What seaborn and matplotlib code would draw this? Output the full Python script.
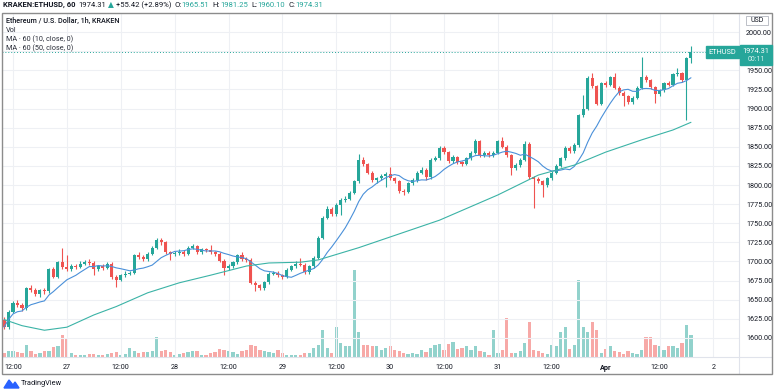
import numpy as np
import pandas as pd
import seaborn as sns
import matplotlib.pyplot as plt
from matplotlib.patches import Rectangle, Polygon
from matplotlib.lines import Line2D

sns.set_theme(style="white")
plt.rcParams['font.family'] = ['Roboto', 'DejaVu Sans']

# hourly candles, KRAKEN ETHUSD, 26 Mar 10:00 -> 1 Apr 19:00
first_open = 1624.0
closes = [1614, 1634, 1646, 1643, 1639, 1665, 1663, 1657, 1662, 1661,
          1690, 1680, 1699, 1693, 1690, 1694, 1693, 1697, 1699, 1698,
          1690, 1694, 1692, 1697, 1680, 1676, 1682, 1684, 1685, 1708,
          1706, 1703, 1710, 1718, 1728, 1725, 1712, 1710, 1711, 1713,
          1710, 1718, 1720, 1712, 1716, 1715, 1712, 1710, 1701, 1692,
          1694, 1699, 1708, 1703, 1702, 1672, 1669, 1665, 1673, 1684,
          1685, 1682, 1680, 1689, 1694, 1697, 1696, 1686, 1694, 1705,
          1731, 1757, 1769, 1762, 1774, 1780, 1782, 1790, 1805, 1833,
          1827, 1816, 1806, 1809, 1812, 1814, 1809, 1805, 1792, 1791,
          1802, 1806, 1816, 1820, 1810, 1833, 1835, 1848, 1843, 1831,
          1836, 1830, 1828, 1835, 1842, 1857, 1839, 1842, 1839, 1842,
          1857, 1850, 1839, 1822, 1826, 1833, 1854, 1810, 1808, 1805,
          1800, 1809, 1816, 1825, 1835, 1848, 1844, 1852, 1891, 1900,
          1940, 1929, 1906, 1933, 1931, 1941, 1927, 1921, 1916, 1908,
          1914, 1927, 1941, 1937, 1928, 1919, 1924, 1933, 1931, 1945,
          1946, 1937, 1965.51, 1974.31]
highs = [1627, 1636, 1648, 1649, 1645, 1667, 1669, 1665, 1664, 1665,
         1692, 1693, 1701, 1718, 1709, 1697, 1697, 1700, 1702, 1703,
         1700, 1696, 1697, 1699, 1699, 1682, 1684, 1687, 1688, 1710,
         1712, 1708, 1712, 1720, 1731, 1731, 1727, 1714, 1714, 1716,
         1715, 1720, 1723, 1722, 1718, 1718, 1722, 1714, 1712, 1703,
         1697, 1701, 1710, 1712, 1706, 1704, 1674, 1671, 1675, 1686,
         1688, 1687, 1684, 1691, 1696, 1700, 1704, 1698, 1696, 1707,
         1733, 1760, 1772, 1771, 1776, 1783, 1785, 1792, 1807, 1841,
         1836, 1829, 1818, 1811, 1815, 1817, 1824, 1811, 1807, 1795,
         1804, 1809, 1818, 1823, 1822, 1835, 1838, 1851, 1851, 1845,
         1839, 1838, 1832, 1837, 1844, 1860, 1859, 1845, 1844, 1845,
         1859, 1863, 1852, 1841, 1829, 1835, 1857, 1856, 1812, 1811,
         1807, 1811, 1818, 1827, 1837, 1851, 1851, 1855, 1893, 1918,
         1943, 1946, 1931, 1935, 1936, 1943, 1946, 1929, 1923, 1918,
         1916, 1929, 1967, 1944, 1939, 1930, 1926, 1935, 1936, 1947,
         1953, 1948, 1968, 1981.25]
lows = [1611, 1612, 1632, 1641, 1635, 1637, 1660, 1655, 1654, 1658,
        1659, 1678, 1678, 1690, 1687, 1688, 1690, 1691, 1695, 1695,
        1682, 1688, 1689, 1690, 1677, 1667, 1674, 1680, 1682, 1683,
        1703, 1700, 1701, 1708, 1716, 1722, 1710, 1702, 1707, 1709,
        1707, 1708, 1716, 1710, 1710, 1713, 1710, 1707, 1699, 1682,
        1689, 1692, 1697, 1701, 1699, 1670, 1661, 1663, 1663, 1671,
        1682, 1680, 1677, 1678, 1687, 1692, 1694, 1684, 1684, 1692,
        1703, 1729, 1755, 1760, 1760, 1761, 1778, 1780, 1788, 1803,
        1825, 1814, 1804, 1803, 1807, 1797, 1807, 1803, 1790, 1787,
        1789, 1800, 1804, 1814, 1807, 1808, 1831, 1833, 1841, 1829,
        1829, 1828, 1825, 1826, 1833, 1840, 1837, 1837, 1836, 1837,
        1840, 1848, 1837, 1813, 1820, 1824, 1831, 1808, 1770, 1802,
        1784, 1798, 1807, 1814, 1823, 1833, 1842, 1842, 1850, 1889,
        1898, 1927, 1904, 1904, 1928, 1929, 1925, 1918, 1903, 1906,
        1906, 1912, 1925, 1935, 1926, 1907, 1917, 1922, 1929, 1929,
        1943, 1935, 1885, 1960.10]
volumes = [4, 6, 6, 5, 4, 12, 6, 3, 4, 6,
           6, 10, 11, 22, 18, 4, 2, 2, 2, 3,
           3, 2, 2, 3, 4, 5, 2, 3, 9, 6,
           4, 5, 5, 6, 20, 6, 7, 5, 2, 3,
           4, 5, 6, 6, 2, 2, 4, 5, 8, 7,
           6, 5, 3, 6, 7, 12, 11, 7, 6, 5,
           4, 7, 4, 2, 2, 2, 2, 4, 4, 9,
           12, 27, 9, 4, 30, 14, 11, 11, 87, 25,
           12, 12, 11, 11, 7, 9, 11, 7, 6, 4,
           3, 4, 3, 7, 5, 9, 12, 13, 7, 13,
           15, 8, 9, 11, 7, 11, 6, 5, 2, 27,
           4, 7, 39, 4, 4, 6, 14, 35, 7, 6,
           4, 3, 12, 11, 25, 30, 8, 12, 77, 30,
           25, 35, 27, 4, 8, 11, 6, 5, 3, 6,
           4, 3, 7, 20, 20, 12, 11, 7, 11, 11,
           9, 14, 32, 22]

# 50-period MA (candle index, value)
ma50_idx = [0, 4, 9, 14, 20, 25, 32, 39, 46, 54, 59, 66, 70, 79, 86,
            97, 110, 119, 127, 134, 142, 149, 153]
ma50_val = [1624, 1616, 1610, 1614, 1630, 1641, 1659, 1672, 1682, 1694, 1698,
            1699, 1702, 1718, 1732, 1754, 1787, 1813, 1826, 1843, 1859, 1872, 1882]

tick_pos = [2, 14, 26, 38, 50, 62, 74, 86, 98, 110, 122, 134, 146, 158]
tick_labels = ["12:00", "27", "12:00", "28", "12:00", "29", "12:00", "30",
               "12:00", "31", "12:00", "Apr", "12:00", "2"]
price_ticks = [1600, 1625, 1650, 1675, 1700, 1725, 1750, 1775, 1800, 1825,
               1850, 1875, 1900, 1925, 1950, 1975, 2000]
hidden_price = 1975  # label sits under the last-price tag

df = pd.DataFrame({"close": closes, "high": highs, "low": lows, "volume": volumes})
df["open"] = [first_open] + closes[:-1]
df["i"] = np.arange(len(df))
df["ma10"] = df["close"].rolling(10, min_periods=1).mean()
ma50 = pd.DataFrame({"i": ma50_idx, "ma": ma50_val})

GREEN, RED = "#26a69a", "#ef5350"
VGREEN, VRED = "#92d2cc", "#f7a9a7"
up = df["close"] >= df["open"]
cols = np.where(up, GREEN, RED)
vcols = np.where(up, VGREEN, VRED)

W, H = 775, 391
fig = plt.figure(figsize=(W / 100, H / 100), dpi=100)
pos = [2 / W, 1 - 357 / H, 737 / W, 344 / H]

vax = fig.add_axes(pos)
vax.bar(df["i"], df["volume"], width=0.72, color=vcols, linewidth=0)
vax.set_xlim(-0.45, 163.7)
vax.set_ylim(0, max(volumes) * 344 / 87)
vax.axis("off")

ax = fig.add_axes(pos)
ax.set_facecolor("none")
ax.set_xlim(-0.45, 163.7)
ax.set_ylim(1575, 2025)
ax.grid(True, color="#eef0f4", linewidth=0.8)
ax.set_axisbelow(True)

ax.vlines(df["i"], df["low"], df["high"], colors=cols, linewidth=0.8, zorder=2)
body = np.maximum((df["close"] - df["open"]).abs(), 1.0)
ax.bar(df["i"], body, bottom=np.minimum(df["open"], df["close"]), width=0.68,
       color=cols, linewidth=0, zorder=3)

sns.lineplot(data=df, x="i", y="ma10", ax=ax, color="#4a90d9", linewidth=0.8, zorder=4)
sns.lineplot(data=ma50, x="i", y="ma", ax=ax, color="#3bb3a6", linewidth=0.8, zorder=4)
ax.axhline(1974.31, color=GREEN, linestyle=(0, (1, 2)), linewidth=0.7, zorder=1)

ax.set_xlabel("")
ax.set_ylabel("")
ax.set_xticks(tick_pos, tick_labels)
ax.set_yticks(price_ticks, ["" if p == hidden_price else f"{p:.2f}" for p in price_ticks])
ax.yaxis.tick_right()
ax.tick_params(axis="both", length=0, labelsize=5.2, colors="#131722")
ax.tick_params(axis="y", pad=5)
ax.tick_params(axis="x", pad=5)
for lab in ax.get_xticklabels():
    if lab.get_text() == "Apr":
        lab.set_fontweight("bold")
for s in ax.spines.values():
    s.set_visible(False)


def fx(x):
    return x / W


def fy(y):
    return 1 - y / H


# separators and frame
fig.add_artist(Line2D([fx(739), fx(739)], [fy(13), fy(374)], color="#e0e3eb", lw=0.8))
fig.add_artist(Line2D([fx(2), fx(772)], [fy(357), fy(357)], color="#e0e3eb", lw=0.8))
fig.add_artist(Rectangle((fx(2), fy(374)), fx(770), (374 - 13) / H, fill=False,
                         edgecolor="#8c8c8c", lw=1.0, zorder=6))

# top price label hidden under the frame
fig.text(fx(745), fy(12), "2025.00", fontsize=5.2, color="#131722", va="center", zorder=3)
fig.add_artist(Rectangle((0, fy(12.5)), 1, 12.5 / H, color="white", zorder=5))
fig.add_artist(Rectangle((fx(746), fy(25)), fx(22), 9 / H, facecolor="white",
                         edgecolor="#b2b5be", lw=0.6, zorder=6))
fig.text(fx(757), fy(20.5), "USD", fontsize=5, color="#131722", ha="center", va="center", zorder=7)

# last price tags
fig.add_artist(Rectangle((fx(706), fy(57.5)), fx(33), 11 / H, color=GREEN, zorder=6))
fig.text(fx(722.5), fy(52), "ETHUSD", fontsize=5.3, color="white", ha="center", va="center", zorder=7)
fig.add_artist(Rectangle((fx(740), fy(65)), fx(32), 20 / H, color=GREEN, zorder=6))
fig.text(fx(756), fy(51.5), "1974.31", fontsize=5.3, color="white", ha="center", va="center", zorder=7)
fig.text(fx(756), fy(59.5), "00:11", fontsize=5, color="#d5f0ed", ha="center", va="center", zorder=7)

# header line, pieces placed one after another
renderer = fig.canvas.get_renderer()
hdr = [("KRAKEN:ETHUSD, 60", "#131722", "bold", 3),
       ("1974.31", "#131722", "normal", 2),
       ("\u25b2", GREEN, "normal", 1.5),
       ("+55.42 (+2.89%)", "#131722", "normal", 3),
       ("O:", "#131722", "normal", 0.5),
       ("1965.51", GREEN, "normal", 3),
       ("H:", "#131722", "normal", 0.5),
       ("1981.25", GREEN, "normal", 3),
       ("L:", "#131722", "normal", 0.5),
       ("1960.10", GREEN, "normal", 3),
       ("C:", "#131722", "normal", 0.5),
       ("1974.31", GREEN, "normal", 0)]
hx = 3
for t, c, w, gap in hdr:
    txt = fig.text(fx(hx), fy(5), t, fontsize=5.5, color=c, fontweight=w, va="center", zorder=8)
    hx += txt.get_window_extent(renderer=renderer).width + gap

# legend block
fig.text(fx(6), fy(21), "Ethereum / U.S. Dollar, 1h, KRAKEN", fontsize=5.2, color="#131722",
         fontweight="medium", va="center", zorder=8)
for y, t in [(30, "Vol"), (39, "MA \u00b7 60 (10, close, 0)"), (48, "MA \u00b7 60 (50, close, 0)")]:
    fig.text(fx(6), fy(y), t, fontsize=5.2, color="#2a2e39", va="center", zorder=8)

# TradingView mark
fig.add_artist(Polygon([[fx(4), fy(388)], [fx(9), fy(380)], [fx(13), fy(385)],
                        [fx(15), fy(382)], [fx(19), fy(388)]], closed=True, color="#2962ff"))
fig.text(fx(21), fy(383.5), "TradingView", fontsize=5.3, color="#131722", va="center")

fig.savefig("out.png", dpi=100, facecolor="white")
